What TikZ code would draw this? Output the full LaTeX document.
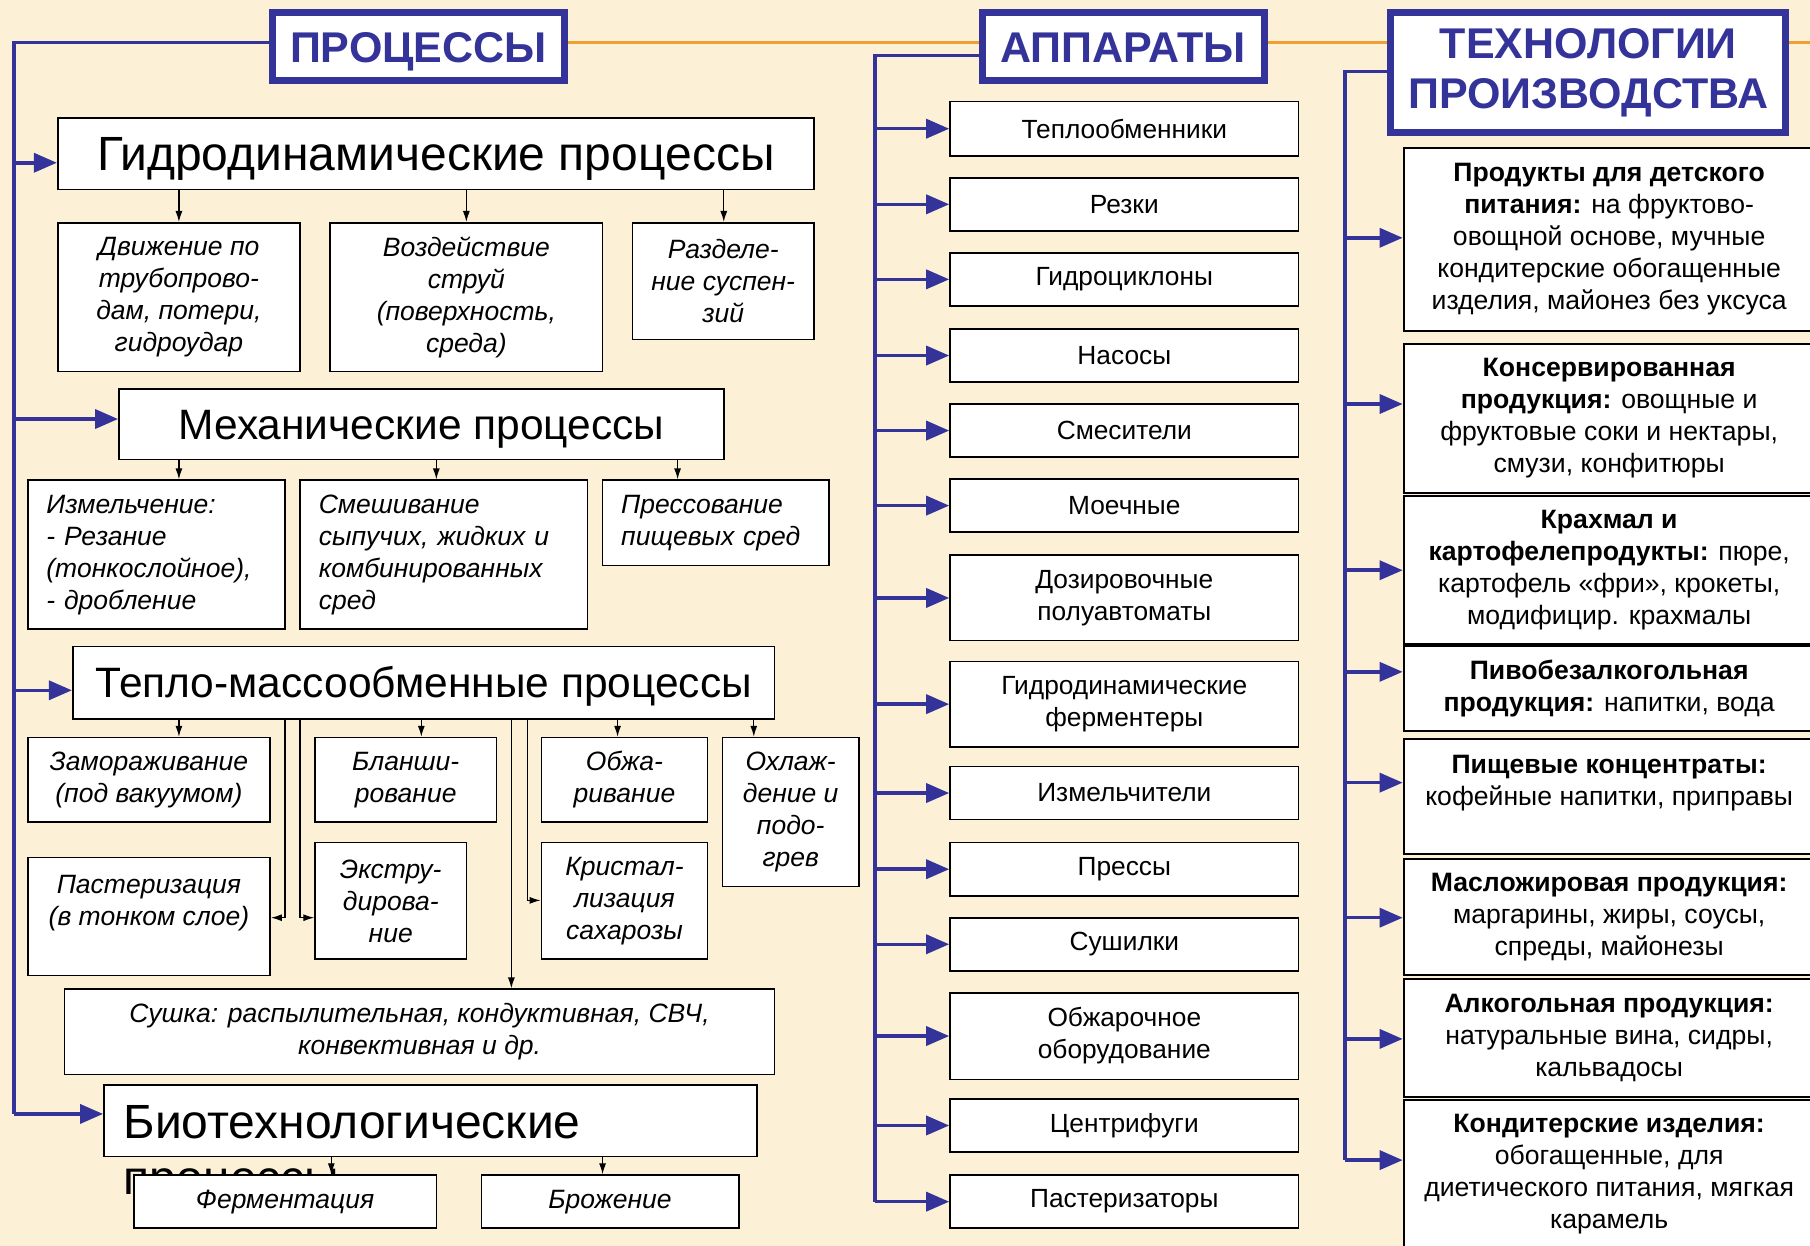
\documentclass[tikz,border=0pt]{standalone}
\usepackage{fontspec}
\setmainfont{Liberation Sans}
\usetikzlibrary{arrows.meta}
\definecolor{hblue}{RGB}{51,51,153}
\definecolor{bgcream}{RGB}{252,241,214}
\definecolor{lorange}{RGB}{240,160,48}
\begin{document}
\begin{tikzpicture}[x=1.1543pt,y=-1.1543pt,
  bx/.style n args={4}{minimum width={(#3-#1)*1.1543pt},minimum height={(#4-#2)*1.1543pt},at={({(#1+#3)/2},{(#2+#4)/2})}},
  box/.style={draw=black,line width=1.6pt,fill=white,inner sep=0pt},
  hbox/.style={draw=hblue,line width=7pt,fill=white,inner sep=0pt,text=hblue,font=\fontsize{43}{50}\selectfont\bfseries,align=center},
  capc/.style={text height=#1,text depth=0pt},
  bigA/.style={box,font=\fontsize{48}{55}\selectfont,capc=34.4pt},
  bigB/.style={box,font=\fontsize{42.5}{50}\selectfont,capc=30.4pt},
  itbox/.style={box,font=\fontsize{26.5}{32}\selectfont\itshape,align=center},
  itleft/.style={box,font=\fontsize{26.5}{32}\selectfont\itshape,align=left},
  abox/.style={box,font=\fontsize{26.3}{32}\selectfont,align=center},
  tbox/.style={box,line width=2pt,font=\fontsize{26.6}{32}\selectfont,align=center},
  bline/.style={draw=hblue,line width=3.5pt},
  barrow/.style={bline,-{Triangle[length=23pt,width=19pt]}},
  karrow/.style={draw=black,line width=1.3pt,-{Latex[length=11pt,width=7pt]}},
  oline/.style={draw=lorange,line width=3.5pt}]
\fill[bgcream] (0,0) rectangle (1568,1079);
\useasboundingbox (0,0) rectangle (1568,1079);

% headers
\node[hbox,capc=30.8pt,bx={236}{11}{489}{70}] (proc) {ПРОЦЕССЫ};
\node[hbox,capc=30.8pt,bx={851}{11}{1095}{70}] (app) {АППАРАТЫ};
\node[hbox,bx={1205}{11}{1547}{115}] (tech) {ТЕХНОЛОГИИ\\ПРОИЗВОДСТВА};

% column 1
\node[bigA,bx={50}{102}{705}{164}] (hydro) {Гидродинамические процессы};
\node[itbox,bx={50}{193}{260}{322}] (h1) {Движение по\\трубопрово-\\дам, потери,\\гидроудар};
\node[itbox,bx={286}{193}{522}{322}] (h2) {Воздействие\\струй\\(поверхность,\\среда)};
\node[itbox,bx={548}{193}{705}{294}] (h3) {Разделе-\\ние суспен-\\зий};
\node[bigB,bx={103}{337}{627}{398}] (mech) {Механические процессы};
\node[itleft,text width=220pt,bx={24}{416}{247}{545}] (m1) {Измельчение:\\- Резание\\(тонкослойное),\\- дробление};
\node[itleft,text width=250pt,bx={260}{416}{509}{545}] (m2) {Смешивание\\сыпучих, жидких и\\комбинированных\\сред};
\node[itleft,text width=189pt,bx={522}{416}{718}{490}] (m3) {Прессование\\пищевых сред};
\node[bigB,bx={63}{560}{671}{623}] (heat) {Тепло-массообменные процессы};
\node[itbox,bx={24}{639}{234}{712}] (q1) {Замораживание\\(под вакуумом)};
\node[itbox,bx={273}{639}{430}{712}] (q2) {Бланши-\\рование};
\node[itbox,bx={469}{639}{613}{712}] (q3) {Обжа-\\ривание};
\node[itbox,bx={626}{639}{744}{768}] (q4) {Охлаж-\\дение и\\подо-\\грев};
\node[itbox,bx={24}{743}{234}{845}] (q5) {Пастеризация\\(в тонком слое)\\\mbox{}};
\node[itbox,bx={273}{730}{404}{831}] (q6) {Экстру-\\дирова-\\ние};
\node[itbox,bx={469}{730}{613}{831}] (q7) {Кристал-\\лизация\\сахарозы};
\node[itbox,bx={56}{857}{671}{931}] (dry) {Сушка: распылительная, кондуктивная, СВЧ,\\конвективная и др.};
\node[bigA,align=left,text width=614pt,bx={90}{940}{656}{1002}] (bio) {Биотехнологические};
\node[font=\fontsize{48}{55}\selectfont,anchor=base west,inner sep=0pt] (bio2) at (107,1035) {процессы};
\node[itbox,bx={116}{1018}{378}{1064}] (b1) {Ферментация};
\node[itbox,bx={417}{1018}{640}{1064}] (b2) {Брожение};

% column 2
\node[abox,bx={823}{88}{1125}{135}] (a1) {Теплообменники};
\node[abox,bx={823}{154}{1125}{200}] (a2) {Резки};
\node[abox,bx={823}{219}{1125}{265}] (a3) {Гидроциклоны};
\node[abox,bx={823}{285}{1125}{331}] (a4) {Насосы};
\node[abox,bx={823}{350}{1125}{396}] (a5) {Смесители};
\node[abox,bx={823}{415}{1125}{461}] (a6) {Моечные};
\node[abox,bx={823}{481}{1125}{555}] (a7) {Дозировочные\\полуавтоматы};
\node[abox,bx={823}{573}{1125}{647}] (a8) {Гидродинамические\\ферментеры};
\node[abox,bx={823}{664}{1125}{710}] (a9) {Измельчители};
\node[abox,bx={823}{730}{1125}{776}] (a10) {Прессы};
\node[abox,bx={823}{795}{1125}{841}] (a11) {Сушилки};
\node[abox,bx={823}{860}{1125}{935}] (a12) {Обжарочное\\оборудование};
\node[abox,bx={823}{952}{1125}{998}] (a13) {Центрифуги};
\node[abox,bx={823}{1018}{1125}{1064}] (a14) {Пастеризаторы};

% column 3
\node[tbox,bx={1216}{128}{1572}{287}] (p1) {\textbf{Продукты для детского}\\\textbf{питания:} на фруктово-\\овощной основе, мучные\\кондитерские обогащенные\\изделия, майонез без уксуса};
\node[tbox,bx={1216}{298}{1572}{427}] (p2) {\textbf{Консервированная}\\\textbf{продукция:} овощные и\\фруктовые соки и нектары,\\смузи, конфитюры};
\node[tbox,bx={1216}{430}{1572}{558}] (p3) {\textbf{Крахмал и}\\\textbf{картофелепродукты:} пюре,\\картофель «фри», крокеты,\\модифицир. крахмалы};
\node[tbox,bx={1216}{560}{1572}{633}] (p4) {\textbf{Пивобезалкогольная}\\\textbf{продукция:} напитки, вода};
\node[tbox,bx={1216}{640}{1572}{740}] (p5) {\textbf{Пищевые концентраты:}\\кофейные напитки, приправы\\\mbox{}};
\node[tbox,bx={1216}{744}{1572}{845}] (p6) {\textbf{Масложировая продукция:}\\маргарины, жиры, соусы,\\спреды, майонезы};
\node[tbox,bx={1216}{848}{1572}{950}] (p7) {\textbf{Алкогольная продукция:}\\натуральные вина, сидры,\\кальвадосы};
\node[tbox,bx={1216}{953}{1572}{1082}] (p8) {\textbf{Кондитерские изделия:}\\обогащенные, для\\диетического питания, мягкая\\карамель};

% orange header line
\coordinate (oy) at (0,37);
\coordinate (oend) at (1575,37);
\draw[oline] (proc.east |- oy) -- (app.west |- oy);
\draw[oline] (app.east |- oy) -- (tech.west |- oy);
\draw[oline] (tech.east |- oy) -- (oend);

% trunk 1
\coordinate (t1top) at (12,37);
\coordinate (t1bot) at (12,965);
\draw[bline] (proc.west |- t1top) -- (t1top) -- (t1bot);
\coordinate (ya) at (12,141);
\coordinate (yb) at (12,363);
\coordinate (yc) at (12,598);
\draw[barrow] (ya) -- (ya -| hydro.west);
\draw[barrow] (yb) -- (yb -| mech.west);
\draw[barrow] (yc) -- (yc -| heat.west);
\draw[barrow] (t1bot) -- (t1bot -| bio.west);

% trunk 2
\coordinate (t2top) at (758,48);
\coordinate (t2bot) at (758,1041);
\draw[bline] (app.west |- t2top) -- (t2top) -- (t2bot);
\foreach \n in {a1,a2,a3,a4,a5,a6,a7,a8,a9,a10,a11,a12,a13,a14}
  \draw[barrow] (t2top |- \n.west) -- (\n.west);

% trunk 3
\coordinate (t3top) at (1165,62);
\coordinate (t3bot) at (1165,1005);
\draw[bline] (tech.west |- t3top) -- (t3top) -- (t3bot);
\foreach \y/\n in {206/p1,350/p2,494/p3,582/p4,678/p5,795/p6,900/p7,1005/p8}{
  \coordinate (ty) at (1165,\y);
  \draw[barrow] (ty) -- (ty -| \n.west);
}

% black arrows
\foreach \x/\s/\n in {155/hydro/h1,404/hydro/h2,627/hydro/h3,155/mech/m1,378/mech/m2,587/mech/m3,155/heat/q1,365/heat/q2,535/heat/q3,653/heat/q4,287/bio/b1,522/bio/b2}{
  \coordinate (kx) at (\x,0);
  \draw[karrow] (kx |- \s.south) -- (kx |- \n.north);
}
\coordinate (k1) at (247,795);
\draw[karrow] (k1 |- heat.south) -- (k1) -- (k1 -| q5.east);
\coordinate (k2) at (260,795);
\draw[karrow] (k2 |- heat.south) -- (k2) -- (k2 -| q6.west);
\coordinate (k3) at (443,0);
\draw[karrow] (k3 |- heat.south) -- (k3 |- dry.north);
\coordinate (k4) at (457,780);
\draw[karrow] (k4 |- heat.south) -- (k4) -- (k4 -| q7.west);
\end{tikzpicture}
\end{document}
